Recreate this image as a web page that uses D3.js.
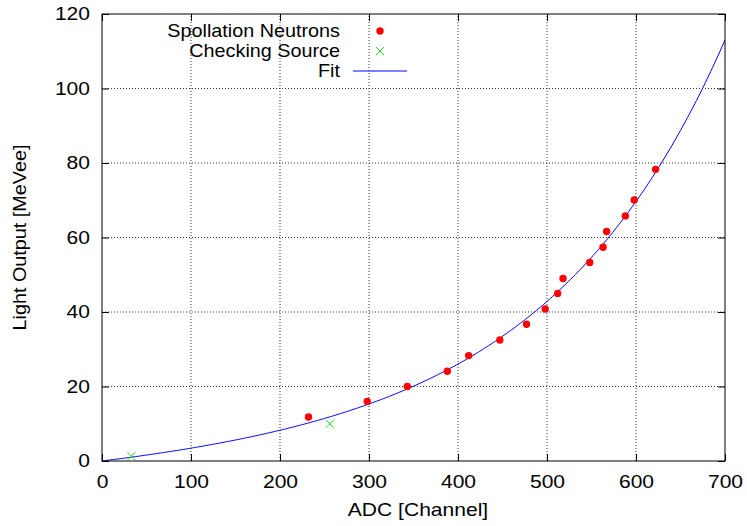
<!DOCTYPE html>
<html>
<head>
<meta charset="utf-8">
<script src="https://cdn.jsdelivr.net/npm/d3@7/dist/d3.min.js"></script>
<style>
  html, body { margin: 0; padding: 0; background: #fff; }
  svg text { font-family: "Liberation Sans", Arial, Helvetica, sans-serif; fill: #000; }
</style>
</head>
<body>
<svg id="chart" width="747" height="526"></svg>
<script>
// Spallation neutron calibration points (ADC channel, light output in MeVee)
const neutronADC   = [232, 298, 343, 388, 412, 447, 477, 498, 512, 518, 548, 563, 567, 588, 598, 622];
const neutronLight = [11.8, 16.0, 20.0, 24.1, 28.3, 32.5, 36.7, 40.8, 45.0, 49.0, 53.3, 57.4, 61.6, 65.8, 70.1, 78.3];

// Checking-source points
const sourceADC   = [33, 256];
const sourceLight = [1.3, 10.0];

// Fit: L(x) = a*x + b*(exp(x/c) - 1)
const fitA = 0.0136, fitB = 3.223, fitC = 200;

const xTicks = [0, 100, 200, 300, 400, 500, 600, 700];
const yTicks = [0, 20, 40, 60, 80, 100, 120];

const legendLabels = ["Spollation Neutrons", "Checking Source", "Fit"];

const svg = d3.select("#chart");
const pL = 102, pR = 725, pT = 14, pB = 461;

const x = d3.scaleLinear().domain([0, 700]).range([pL, pR]);
const y = d3.scaleLinear().domain([0, 120]).range([pB, pT]);

const fontSize = 18;

// widen glyphs horizontally around each text's anchor point
function stretch(sel, sx) {
  sel.each(function () {
    const t = d3.select(this);
    const tx = +t.attr("x") || 0, ty = +t.attr("y") || 0;
    t.attr("x", null).attr("y", null)
      .attr("transform", `translate(${tx},${ty}) scale(${sx},1)`);
  });
}

// grid
const grid = svg.append("g").attr("stroke", "#000").attr("stroke-width", 1)
  .attr("stroke-dasharray", "1,2").attr("opacity", 0.8);
xTicks.filter(d => d > 0 && d < 700).forEach(d => {
  grid.append("line").attr("x1", x(d)).attr("x2", x(d)).attr("y1", pB).attr("y2", pT);
});
yTicks.filter(d => d > 0 && d < 120).forEach(d => {
  grid.append("line").attr("x1", pL).attr("x2", pR).attr("y1", y(d)).attr("y2", y(d));
});

// axes with inward ticks, mirrored on top/right
const tickLen = 7;
svg.append("g").attr("transform", `translate(0,${pB})`)
  .call(d3.axisBottom(x).tickValues(xTicks).tickSizeInner(-tickLen).tickSizeOuter(0).tickPadding(14))
  .call(g => g.select(".domain").remove())
  .call(g => g.selectAll("text").attr("font-size", fontSize).attr("font-family", null).call(stretch, 1.17));
svg.append("g").attr("transform", `translate(0,${pT})`)
  .call(d3.axisTop(x).tickValues(xTicks).tickSizeInner(-tickLen).tickSizeOuter(0).tickFormat(""))
  .call(g => g.select(".domain").remove());
svg.append("g").attr("transform", `translate(${pL},0)`)
  .call(d3.axisLeft(y).tickValues(yTicks).tickSizeInner(-tickLen).tickSizeOuter(0).tickPadding(12))
  .call(g => g.select(".domain").remove())
  .call(g => g.selectAll("text").attr("font-size", fontSize).attr("font-family", null).call(stretch, 1.17));
svg.append("g").attr("transform", `translate(${pR},0)`)
  .call(d3.axisRight(y).tickValues(yTicks).tickSizeInner(-tickLen).tickSizeOuter(0).tickFormat(""))
  .call(g => g.select(".domain").remove());
svg.selectAll(".tick line").attr("stroke", "#000");

// fit curve
const fitXs = d3.range(0, 700.5, 2);
svg.append("clipPath").attr("id", "plotclip")
  .append("rect").attr("x", pL).attr("y", pT).attr("width", pR - pL).attr("height", pB - pT);
svg.append("path")
  .datum(fitXs)
  .attr("clip-path", "url(#plotclip)")
  .attr("fill", "none").attr("stroke", "#0000ff").attr("stroke-width", 1)
  .attr("d", d3.line().x(d => x(d)).y(d => y(fitA * d + fitB * (Math.exp(d / fitC) - 1))));

// neutron points
svg.append("g").selectAll("circle")
  .data(d3.zip(neutronADC, neutronLight))
  .join("circle")
  .attr("cx", d => x(d[0])).attr("cy", d => y(d[1])).attr("r", 3.7)
  .attr("fill", "#ff0000");

// checking source crosses
const cross = (cx, cy, s) => `M${cx - s},${cy - s}L${cx + s},${cy + s}M${cx - s},${cy + s}L${cx + s},${cy - s}`;
svg.append("g").selectAll("path")
  .data(d3.zip(sourceADC, sourceLight))
  .join("path")
  .attr("d", d => cross(x(d[0]), y(d[1]), 4))
  .attr("stroke", "#22dd22").attr("stroke-width", 1).attr("fill", "none");

// border
svg.append("rect").attr("x", pL).attr("y", pT).attr("width", pR - pL).attr("height", pB - pT)
  .attr("fill", "none").attr("stroke", "#000").attr("stroke-width", 1);

// legend
const legY = [31, 51, 71];
legendLabels.forEach((t, i) => {
  svg.append("text").attr("x", 340).attr("y", legY[i]).attr("dy", "0.35em")
    .attr("text-anchor", "end").attr("font-size", fontSize).text(t)
    .call(stretch, 1.1);
});
svg.append("circle").attr("cx", 380).attr("cy", legY[0]).attr("r", 3.7).attr("fill", "#ff0000");
svg.append("path").attr("d", cross(380, legY[1], 4)).attr("stroke", "#22dd22").attr("fill", "none");
svg.append("line").attr("x1", 353).attr("x2", 407).attr("y1", legY[2]).attr("y2", legY[2])
  .attr("stroke", "#0000ff").attr("stroke-width", 1);

// axis titles
svg.append("text").attr("x", 418).attr("y", 516).attr("text-anchor", "middle")
  .attr("font-size", fontSize).text("ADC [Channel]").call(stretch, 1.17);
svg.append("text").attr("transform", `translate(26,${(pT + pB) / 2}) rotate(-90) scale(1.1,1)`)
  .attr("text-anchor", "middle").attr("font-size", fontSize).text("Light Output [MeVee]");
</script>
</body>
</html>
